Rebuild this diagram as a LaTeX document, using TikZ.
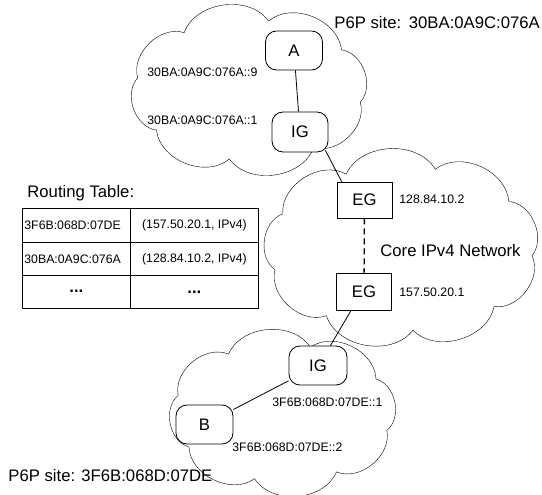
\documentclass[tikz,border=0pt]{standalone}
\usepackage{fontspec}
\setmainfont{Liberation Sans}
\usetikzlibrary{calc}
\pgfdeclarelayer{background}
\pgfsetlayers{background,main}
\newcommand\bigf{\fontsize{16.7}{19}\selectfont}
\newcommand\smallf{\fontsize{12.3}{14}\selectfont}
\newcommand\mycloud[6]{%
  \draw[shift={(#1,#2)}] (#6:#3 and #4) foreach \k in {1,...,#5} { to[bend left=62] ({#6+\k*360/#5}:#3 and #4) } -- cycle;
}
\begin{document}
\begin{tikzpicture}[x=1pt,y=-1pt,line width=0.8pt,
  host/.style={draw, fill=white, rounded corners=11pt, minimum width=57pt, minimum height=39pt, inner sep=0pt, font=\bigf},
  gw/.style={draw, fill=white, minimum width=55pt, minimum height=36pt, inner sep=0pt, font=\bigf},
  lbl/.style={inner sep=0pt, font=\smallf, anchor=base west},
  big/.style={inner sep=0pt, font=\bigf, anchor=base west},
  cellL/.style={draw, anchor=north west, minimum width=108pt, text width=104pt, align=left, inner xsep=2pt, inner ysep=0pt, font=\smallf},
  cellR/.style={draw, anchor=north west, minimum width=128pt, inner xsep=2pt, inner ysep=0pt, font=\smallf},
  link/.style={draw, line width=0.8pt}
]
\useasboundingbox (0,0) rectangle (542,495);

% hosts and gateways
\node[host] (A) at (294,50.5) {A};
\node[host, minimum width=56pt, minimum height=40pt] (IGa) at (300,132) {IG};
\node[gw] (EG1) at (364.5,200) {EG};
\node[gw, minimum height=37pt] (EG2) at (364,291.5) {EG};
\node[host, minimum width=58pt] (IGb) at (318,365.5) {IG};
\node[host, minimum width=57pt] (B) at (204.5,424.5) {B};

% labels
\node[big] (siteA) at (334,29) {P6P site:\hspace{1.5pt} 30BA:0A9C:076A};
\node[lbl] (la9) at (147,77) {30BA:0A9C:076A::9};
\node[lbl] (la1) at (147,125) {30BA:0A9C:076A::1};
\node[lbl] (leg1) at (399,204) {128.84.10.2};
\node[lbl] (leg2) at (399,297) {157.50.20.1};
\node[big] (core) at (380,256) {Core IPv4 Network};
\node[lbl] (lb1) at (272,406.5) {3F6B:068D:07DE::1};
\node[lbl] (lb2) at (232,451.5) {3F6B:068D:07DE::2};
\node[big] (siteB) at (8,481.5) {P6P site: 3F6B:068D:07DE};

% routing table
\node[big] (rt) at (27,197) {Routing Table:};
\node[cellL, minimum height=34pt] (r1a) at (22,208) {3F6B:068D:07DE};
\node[cellR, minimum height=34pt] (r1b) at (130,208) {(157.50.20.1, IPv4)};
\node[cellL, minimum height=33pt] (r2a) at (22,242) {30BA:0A9C:076A};
\node[cellR, minimum height=33pt] (r2b) at (130,242) {(128.84.10.2, IPv4)};
\node[cellR, minimum width=108pt, minimum height=33pt, font=\bigf] (r3a) at (22,275) {\raisebox{2pt}{\textbf{...}}};
\node[cellR, minimum height=33pt, font=\bigf] (r3b) at (130,275) {\textbf{...}};

\begin{pgfonlayer}{background}
  \mycloud{249}{90}{113}{70}{8}{10}
  \mycloud{401.5}{248.5}{131}{82}{9}{5}
  \mycloud{282.5}{413}{108}{68}{8}{15}
  \draw[link] (A) -- (IGa);
  \draw[link] ($(IGa.south east)+(-3,-2)$) -- ($(EG1.north west)+(5,0)$);
  \draw[link, line width=1.3pt, dash pattern=on 6pt off 4pt] (EG1) -- (EG2);
  \draw[link] ($(EG2.south west)+(15,0)$) -- ($(IGb.north east)+(-17,0)$);
  \draw[link] (IGb) -- (B);
\end{pgfonlayer}
\end{tikzpicture}
\end{document}
